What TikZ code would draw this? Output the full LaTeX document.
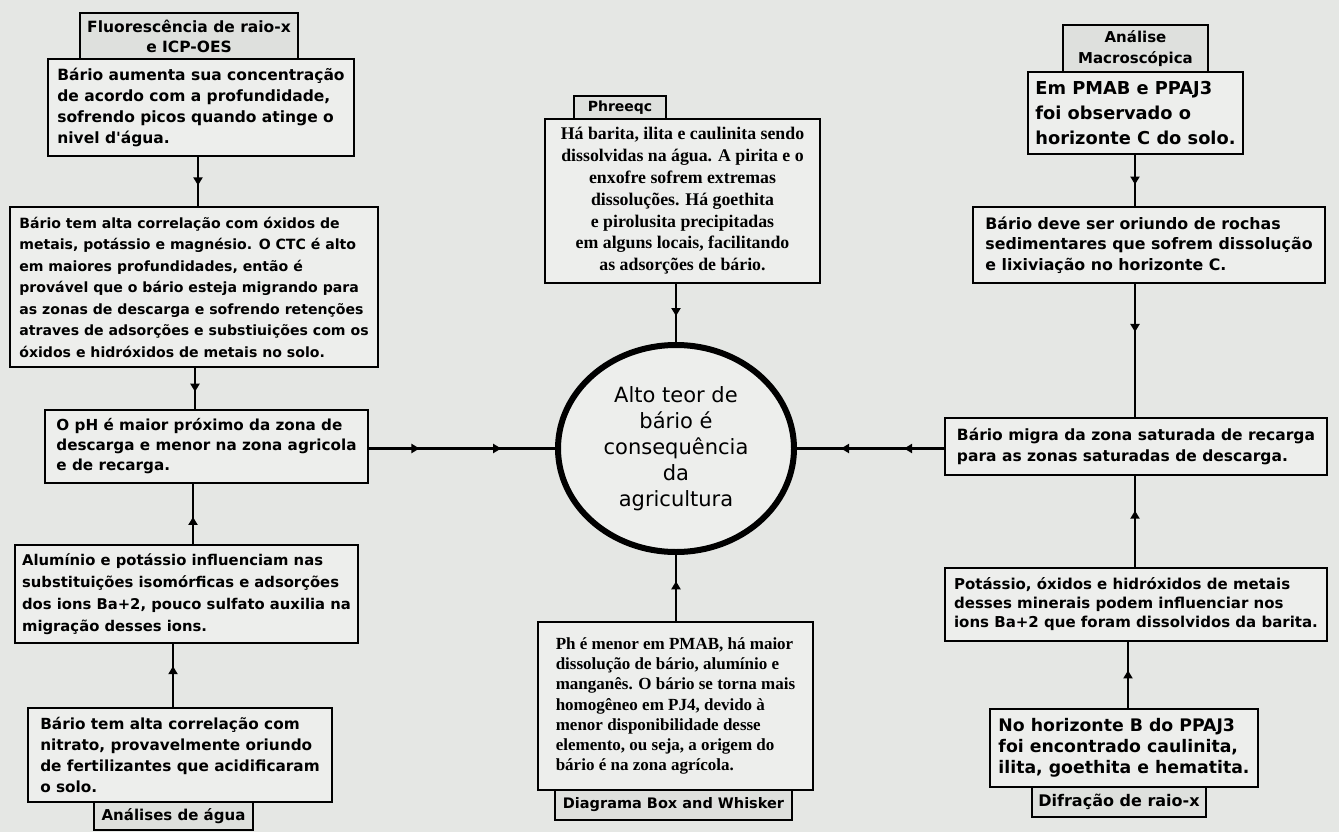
\documentclass[tikz,border=0pt]{standalone}
\usepackage{fontspec}
\setmainfont{DejaVu Sans}
\newfontfamily\dv{DejaVu Sans}
\newfontfamily\srf{Liberation Serif}
\usetikzlibrary{decorations.markings,arrows.meta,shapes.geometric}
\definecolor{bgc}{RGB}{229,231,228}
\definecolor{boxc}{RGB}{237,238,236}
\definecolor{titc}{RGB}{222,224,221}
\newcommand\mkbox[7]{%
 \pgfmathsetmacro\cx{(#2+#4)/2}\pgfmathsetmacro\cy{(#3+#5)/2}%
 \pgfmathsetmacro\bw{#4-#2}\pgfmathsetmacro\bh{#5-#3}%
 \node[#6,minimum width=\bw pt,minimum height=\bh pt] (#1) at (\cx,\cy) {#7};}
\tikzset{
 box/.style={draw=black,line width=2.7pt,fill=boxc,rectangle,inner sep=0pt,align=left},
 tbox/.style={draw=black,line width=2.7pt,fill=titc,rectangle,inner sep=0pt,align=center},
 bf/.style 2 args={font=\dv\bfseries\fontsize{#1}{#2}\selectfont},
 sf/.style 2 args={font=\srf\bfseries\fontsize{#1}{#2}\selectfont},
 conn/.style={line width=2.6pt},
 arrowat/.style={postaction={decorate,decoration={markings,mark=at position #1 with {\arrow{Triangle[length=8pt,width=9pt]}}}}}
}
\begin{document}
\begin{tikzpicture}[x=1pt,y=-1pt]
\fill[bgc] (0,0) rectangle (1339,832);
\useasboundingbox (0,0) rectangle (1339,832);

% left column
\mkbox{L1}{48}{59}{354}{156}{box,bf={15.5}{21.3}}{Bário aumenta sua concentração\\de acordo com a profundidade,\\sofrendo picos quando atinge o\\nivel d'água.}
\mkbox{L0}{80}{13}{298}{59}{tbox,bf={15.5}{20}}{Fluorescência de raio-x\\e ICP-OES}
\mkbox{L2}{10}{207}{378}{367}{box,bf={14.1}{21.5}}{Bário tem alta correlação com óxidos de\\metais, potássio e magnésio. O CTC é alto\\em maiores profundidades, então é\\provável que o bário esteja migrando para\\as zonas de descarga e sofrendo retenções\\atraves de adsorções e substiuições com os\\óxidos e hidróxidos de metais no solo.}
\mkbox{L3}{45}{410}{368}{483}{box,bf={15.2}{20}}{O pH é maior próximo da zona de\\descarga e menor na zona agricola\\e de recarga.}
\mkbox{L4}{15}{545}{358}{643}{box,bf={14.8}{21.8}}{Alumínio e potássio influenciam nas\\substituições isomórficas e adsorções\\dos ions Ba+2, pouco sulfato auxilia na\\migração desses ions.}
\mkbox{L5}{28}{708}{332}{802}{box,bf={15.3}{21.3}}{Bário tem alta correlação com\\nitrato, provavelmente oriundo\\de fertilizantes que acidificaram\\o solo.}
\mkbox{L6}{94}{802}{253}{830}{tbox,bf={15}{18}}{Análises de água}

% center column
\mkbox{P1}{545}{119}{820}{283}{box,align=center,sf={17.8}{21.8}}{Há barita, ilita e caulinita sendo\\dissolvidas na água. A pirita e o\\enxofre sofrem extremas\\dissoluções. Há goethita\\e pirolusita precipitadas\\em alguns locais, facilitando\\as adsorções de bário.}
\mkbox{P0}{574}{96}{666}{119}{tbox,bf={14}{16}}{Phreeqc}
\node[ellipse,draw=black,line width=6pt,fill=boxc,minimum width=236pt,minimum height=207pt,inner sep=0pt,align=center,font=\dv\fontsize{21}{26}\selectfont] (C) at (676,448.5) {Alto teor de\\bário é\\consequência\\da\\agricultura};
\mkbox{B1}{538}{622}{813}{790}{box,sf={17}{20.3}}{Ph é menor em PMAB, há maior\\dissolução de bário, alumínio e\\manganês. O bário se torna mais\\homogêneo em PJ4, devido à\\menor disponibilidade desse\\elemento, ou seja, a origem do\\bário é na zona agrícola.}
\mkbox{B0}{555}{790}{792}{820}{tbox,bf={14.5}{18}}{Diagrama Box and Whisker}

% right column
\mkbox{R1}{1028}{72}{1243}{154}{box,bf={17.8}{25}}{Em PMAB e PPAJ3\\foi observado o\\horizonte C do solo.}
\mkbox{R0}{1063}{25}{1208}{72}{tbox,bf={15}{21}}{Análise\\Macroscópica}
\mkbox{R2}{973}{207}{1325}{283}{box,bf={15.8}{20.5}}{Bário deve ser oriundo de rochas\\sedimentares que sofrem dissolução\\e lixiviação no horizonte C.}
\mkbox{R3}{945}{418}{1327}{475}{box,bf={15.5}{21}}{Bário migra da zona saturada de recarga\\para as zonas saturadas de descarga.}
\mkbox{R4}{945}{568}{1327}{641}{box,bf={15}{19}}{Potássio, óxidos e hidróxidos de metais\\desses minerais podem influenciar nos\\ions Ba+2 que foram dissolvidos da barita.}
\mkbox{R5}{990}{709}{1258}{787}{box,bf={17.3}{21}}{No horizonte B do PPAJ3\\foi encontrado caulinita,\\ilita, goethita e hematita.}
\mkbox{R6}{1032}{787}{1206}{817}{tbox,bf={16}{18}}{Difração de raio-x}

% connector x positions
\coordinate (xa) at (198,0);
\coordinate (xb) at (195,0);
\coordinate (xc) at (193,0);
\coordinate (xd) at (173,0);
\coordinate (xe) at (1135,0);
\coordinate (xf) at (1128,0);

\draw[conn,arrowat=0.58] (L1.south -| xa) -- (L2.north -| xa);
\draw[conn,arrowat=0.58] (L2.south -| xb) -- (L3.north -| xb);
\draw[conn,arrowat=0.45] (L4.north -| xc) -- (L3.south -| xc);
\draw[conn,arrowat=0.65] (L5.north -| xd) -- (L4.south -| xd);
\draw[conn,arrowat=0.27,arrowat=0.71] (L3.east |- C) -- (C.west);

\draw[conn,arrowat=0.55] (P1.south -| C) -- (C.north);
\draw[conn,arrowat=0.6] (B1.north -| C) -- (C.south);

\draw[conn,arrowat=0.58] (R1.south -| xe) -- (R2.north -| xe);
\draw[conn,arrowat=0.36] (R2.south -| xe) -- (R3.north -| xe);
\draw[conn,arrowat=0.62] (R4.north -| xe) -- (R3.south -| xe);
\draw[conn,arrowat=0.57] (R5.north -| xf) -- (R4.south -| xf);
\draw[conn,arrowat=0.27,arrowat=0.7] (R3.west |- C) -- (C.east);
\end{tikzpicture}
\end{document}
